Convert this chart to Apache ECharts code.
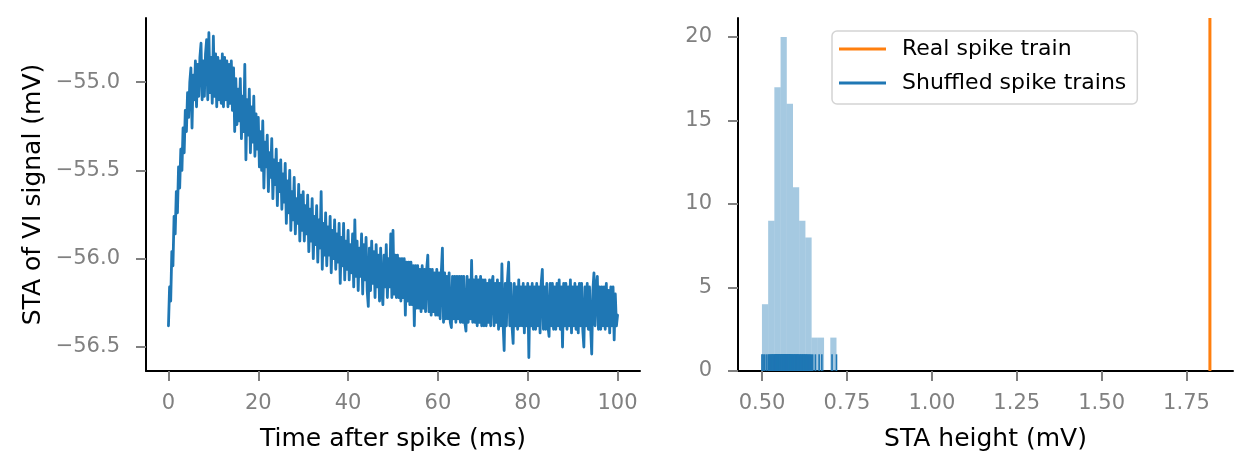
<!DOCTYPE html>
<html>
<head>
<meta charset="utf-8">
<script src="https://cdn.jsdelivr.net/npm/echarts@6/dist/echarts.min.js"></script>
<style>html,body{margin:0;padding:0;background:#fff}#c{width:1250px;height:472px}</style>
</head>
<body>
<div id="c"></div>
<script>
// ---- data ----
const timeStepMs = 0.25; // sampling step of the STA trace (ms), starting at 0
const staValues = [
-56.38,-56.16,-56.24,-55.96,-56.04,-55.76,-55.86,-55.62,-55.74,-55.48,-55.60,-55.38,-55.50,-55.26,-55.40,-55.16,-55.28,-55.06,-55.20,-55.00,
-54.92,-55.26,-54.96,-55.10,-54.88,-55.14,-54.90,-55.08,-54.86,-54.78,-55.10,-54.88,-55.08,-54.84,-54.76,-55.10,-54.72,-55.06,-54.86,-55.12,
-54.74,-55.08,-54.84,-55.14,-54.86,-55.10,-54.88,-55.12,-54.84,-55.14,-54.86,-55.10,-54.88,-55.14,-54.90,-55.12,-54.88,-55.16,-54.92,-55.28,
-54.98,-55.24,-55.04,-55.22,-54.98,-55.32,-55.08,-55.28,-54.90,-55.44,-55.10,-55.30,-55.04,-55.40,-55.14,-55.34,-55.08,-55.42,-55.18,-55.38,
-55.20,-55.48,-55.28,-55.50,-55.22,-55.60,-55.34,-55.48,-55.30,-55.62,-55.40,-55.54,-55.32,-55.66,-55.44,-55.58,-55.38,-55.70,-55.46,-55.62,
-55.44,-55.72,-55.52,-55.68,-55.46,-55.80,-55.56,-55.74,-55.50,-55.84,-55.62,-55.78,-55.54,-55.86,-55.66,-55.80,-55.58,-55.90,-55.64,-55.84,
-55.62,-55.90,-55.70,-55.86,-55.64,-55.96,-55.72,-55.90,-55.66,-56.00,-55.76,-55.92,-55.70,-56.02,-55.78,-55.94,-55.62,-56.06,-55.80,-55.98,
-55.74,-56.04,-55.82,-55.98,-55.76,-56.08,-55.84,-56.00,-55.78,-56.06,-55.86,-56.02,-55.80,-56.14,-55.88,-56.04,-55.80,-56.12,-55.90,-56.06,
-55.84,-56.12,-55.92,-56.08,-55.86,-56.16,-55.78,-56.10,-55.90,-56.18,-55.94,-56.10,-55.86,-56.20,-55.92,-56.12,-55.88,-56.18,-56.27,-55.94,
-56.18,-55.90,-56.14,-55.96,-56.22,-55.92,-56.16,-55.98,-56.24,-55.94,-56.18,-56.26,-55.98,-56.16,-55.92,-56.22,-56.00,-56.16,-55.86,-56.22,
-55.84,-56.20,-55.98,-56.22,-55.98,-56.22,-56.00,-56.24,-56.00,-56.22,-56.00,-56.32,-56.02,-56.24,-56.02,-56.26,-56.02,-56.26,-56.04,-56.38,
-56.04,-56.28,-56.04,-56.28,-56.06,-56.30,-56.04,-56.28,-56.06,-56.30,-56.06,-55.98,-56.30,-56.06,-56.32,-56.06,-56.30,-56.08,-56.32,-56.06,
-56.32,-56.08,-56.34,-56.08,-55.94,-56.36,-56.08,-56.34,-56.10,-56.34,-56.08,-56.36,-56.39,-56.10,-56.34,-56.10,-56.36,-56.10,-56.34,-56.10,
-56.36,-56.10,-56.36,-56.10,-56.36,-56.41,-56.10,-56.36,-56.12,-56.34,-56.01,-56.36,-56.12,-56.36,-56.10,-56.38,-56.12,-56.36,-56.10,-56.38,
-56.12,-56.38,-56.12,-56.38,-56.14,-56.36,-56.12,-56.38,-56.14,-56.10,-56.38,-56.14,-56.36,-56.12,-56.40,-56.14,-56.38,-56.03,-56.36,-56.52,
-56.14,-56.38,-56.12,-56.02,-56.38,-56.14,-56.38,-56.48,-56.14,-56.38,-56.16,-56.40,-56.12,-56.38,-56.16,-56.38,-56.14,-56.42,-56.16,-56.38,
-56.14,-56.56,-56.16,-56.38,-56.14,-56.40,-56.16,-56.40,-56.14,-56.38,-56.16,-56.42,-56.14,-56.06,-56.40,-56.16,-56.40,-56.14,-56.38,-56.44,
-56.14,-56.38,-56.14,-56.40,-56.16,-56.40,-56.14,-56.38,-56.12,-56.40,-56.16,-56.50,-56.14,-56.38,-56.14,-56.40,-56.16,-56.38,-56.12,-56.42,
-56.16,-56.38,-56.14,-56.40,-56.16,-56.42,-56.14,-56.38,-56.14,-56.40,-56.50,-56.16,-56.38,-56.14,-56.40,-56.16,-56.38,-56.54,-56.18,-56.08,
-56.38,-56.16,-56.10,-56.40,-56.16,-56.40,-56.16,-56.38,-56.16,-56.40,-56.14,-56.38,-56.18,-56.42,-56.16,-56.38,-56.16,-56.46,-56.20,-56.38,-56.32
];
const shuffledHeights = [
0.4995,0.503,0.508,0.514,
0.519,0.521,0.524,0.526,0.528,0.530,0.531,0.533,0.535,
0.537,0.538,0.539,0.540,0.541,0.542,0.543,0.544,0.545,0.546,0.547,0.548,0.549,0.550,0.551,0.552,0.553,
0.555,0.556,0.557,0.558,0.559,0.560,0.561,0.562,0.563,0.564,0.565,0.5655,0.566,0.567,0.568,0.569,0.570,0.5705,0.571,0.572,
0.573,0.574,0.575,0.576,0.577,0.578,0.579,0.580,0.581,0.582,0.583,0.584,0.586,0.587,0.589,0.590,
0.592,0.594,0.595,0.597,0.598,0.600,0.602,0.603,0.605,0.606,0.608,
0.610,0.612,0.614,0.616,0.618,0.620,0.622,0.624,0.626,
0.628,0.630,0.632,0.634,0.637,0.639,0.642,0.645,
0.649,0.657,
0.668,0.676,
0.706,0.7191
];
const realHeight = 1.819;
const histBins = 12;
const timeTicks = [0, 20, 40, 60, 80, 100];
const staTicks = [-56.5, -56.0, -55.5, -55.0];
const heightTicks = [0.50, 0.75, 1.00, 1.25, 1.50, 1.75];
const countTicks = [0, 5, 10, 15, 20];
const labels = {
  xLeft: 'Time after spike (ms)',
  yLeft: 'STA of VI signal (mV)',
  xRight: 'STA height (mV)',
  real: 'Real spike train',
  shuffled: 'Shuffled spike trains'
};

// ---- build ----
const hMin = Math.min(...shuffledHeights), hMax = Math.max(...shuffledHeights);
const bw = (hMax - hMin) / histBins;
const counts = new Array(histBins).fill(0);
shuffledHeights.forEach(v => { counts[Math.min(histBins - 1, Math.floor((v - hMin) / bw))]++; });
const histData = counts.map((c, i) => [hMin + i * bw, hMin + (i + 1) * bw, c]);
const lineData = staValues.map((v, i) => [i * timeStepMs, v]);

const FONT = 'DejaVu Sans';
const GREY = '#808080';
function axisCommon(ticks, fmt) {
  return {
    axisLine: { show: true, onZero: false, lineStyle: { color: '#000', width: 2 } },
    axisTick: { show: true, length: 10, customValues: ticks, lineStyle: { color: GREY, width: 2 } },
    axisLabel: { customValues: ticks, formatter: fmt, color: GREY, fontSize: 21, fontFamily: FONT },
    splitLine: { show: false }
  };
}
const chart = echarts.init(document.getElementById('c'), null, { renderer: 'canvas' });
const xl = axisCommon(timeTicks, v => String(v));
xl.axisLabel.margin = 22;
const yl = axisCommon(staTicks, v => (v < 0 ? '\u2212' : '') + Math.abs(v).toFixed(1));
yl.axisLabel.margin = 26;
const xr = axisCommon(heightTicks, v => v.toFixed(2));
xr.axisLabel.margin = 22;
const yr = axisCommon(countTicks, v => String(v));
yr.axisLabel.margin = 26;

chart.setOption({
  animation: false,
  grid: [
    { left: 146, top: 18, width: 494, height: 353 },
    { left: 738, top: 18, width: 495, height: 353 }
  ],
  xAxis: [
    Object.assign({ type: 'value', gridIndex: 0, min: -5, max: 105, name: labels.xLeft, nameLocation: 'middle', nameGap: 56,
      nameTextStyle: { fontSize: 25, color: '#000', fontFamily: FONT } }, xl),
    Object.assign({ type: 'value', gridIndex: 1, min: 0.429, max: 1.887, name: labels.xRight, nameLocation: 'middle', nameGap: 56,
      nameTextStyle: { fontSize: 25, color: '#000', fontFamily: FONT } }, xr)
  ],
  yAxis: [
    Object.assign({ type: 'value', gridIndex: 0, min: -56.636, max: -54.637, name: labels.yLeft, nameLocation: 'middle', nameRotate: 90, nameGap: 100,
      nameTextStyle: { fontSize: 25, color: '#000', fontFamily: FONT } }, yl),
    Object.assign({ type: 'value', gridIndex: 1, min: 0, max: 21.14 }, yr)
  ],
  legend: {
    orient: 'vertical', left: 832, top: 31,
    data: [
      { name: labels.real, icon: 'rect', itemStyle: { color: '#ff7f0e' } },
      { name: labels.shuffled, icon: 'rect', itemStyle: { color: '#1f77b4' } }
    ],
    itemWidth: 47, itemHeight: 3, itemGap: 12,
    padding: [7, 11, 10, 7],
    textStyle: { fontSize: 22, color: '#000', fontFamily: FONT, padding: [0, 0, 0, 11] },
    backgroundColor: '#fff', borderColor: '#d4d4d4', borderWidth: 1.5, borderRadius: 5
  },
  series: [
    {
      type: 'line', xAxisIndex: 0, yAxisIndex: 0, data: lineData, showSymbol: false, silent: true,
      lineStyle: { color: '#1f77b4', width: 2.8, join: 'round', cap: 'round' }
    },
    {
      type: 'custom', name: 'hist', xAxisIndex: 1, yAxisIndex: 1, data: histData, silent: true,
      renderItem: (params, api) => {
        const p0 = api.coord([api.value(0), api.value(2)]);
        const p1 = api.coord([api.value(1), 0]);
        return { type: 'rect', shape: { x: p0[0], y: p0[1], width: p1[0] - p0[0], height: p1[1] - p0[1] },
          style: { fill: 'rgba(31,119,180,0.4)' } };
      }
    },
    {
      type: 'custom', name: labels.shuffled, xAxisIndex: 1, yAxisIndex: 1, data: shuffledHeights.map(v => [v]), silent: true,
      itemStyle: { color: '#1f77b4' },
      renderItem: (params, api) => {
        const a = api.coord([api.value(0), 0]);
        const b = api.coord([api.value(0), 1]);
        return { type: 'line', shape: { x1: a[0], y1: a[1], x2: b[0], y2: b[1] },
          style: { stroke: '#1f77b4', lineWidth: 1.6 } };
      }
    },
    {
      type: 'custom', name: labels.real, xAxisIndex: 1, yAxisIndex: 1, data: [[realHeight]], silent: true,
      itemStyle: { color: '#ff7f0e' },
      renderItem: (params, api) => {
        const a = api.coord([api.value(0), 0]);
        const b = api.coord([api.value(0), 21.14]);
        return { type: 'line', shape: { x1: a[0], y1: a[1], x2: b[0], y2: b[1] },
          style: { stroke: '#ff7f0e', lineWidth: 3 } };
      }
    }
  ]
});
</script>
</body>
</html>
